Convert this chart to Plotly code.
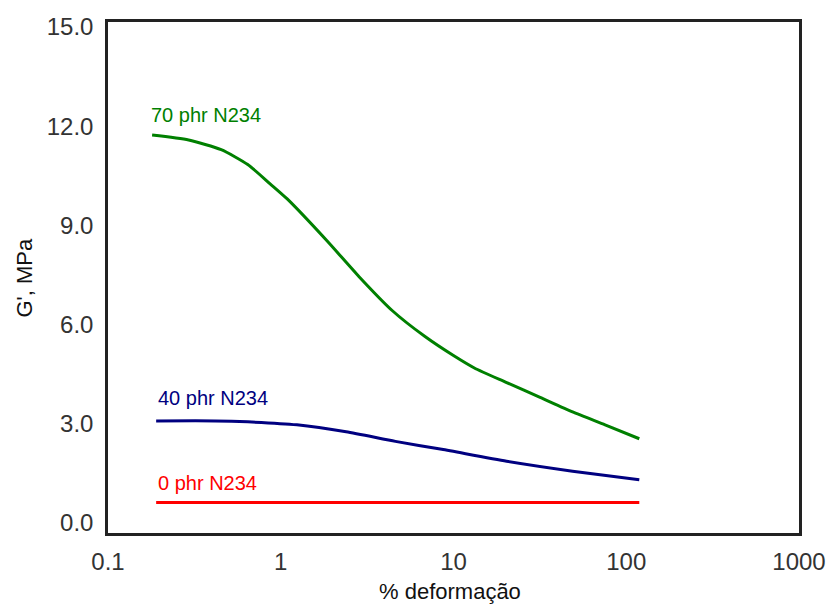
import math
import plotly.graph_objects as go

# Strain (%) and G' (MPa)
strain_70 = [0.180, 0.293, 0.452, 0.644, 0.871, 1.09, 1.84, 2.84, 4.43, 6.84, 10.1, 13.2, 20.3, 31.7, 48.9, 75.4, 119]
g_70 = [11.73, 11.58, 11.29, 10.84, 10.25, 9.80, 8.55, 7.45, 6.42, 5.64, 5.05, 4.69, 4.25, 3.80, 3.36, 2.97, 2.55]

strain_40 = [0.19, 0.418, 0.644, 1.24, 2.39, 4.61, 8.55, 20.3, 48.9, 119]
g_40 = [3.09, 3.09, 3.06, 2.97, 2.76, 2.47, 2.23, 1.87, 1.57, 1.31]

strain_0 = [0.19, 1.0, 10.0, 119]
g_0 = [0.62, 0.62, 0.62, 0.62]

series_names = ["70 phr N234", "40 phr N234", "0 phr N234"]
series_colors = ["#008000", "#000080", "#ff0000"]
label_x = [0.173, 0.19, 0.19]
label_y = [12.33, 3.77, 1.22]

x_tickvals = [0.1, 1, 10, 100, 1000]
x_ticktext = ["0.1", "1", "10", "100", "1000"]
y_tickvals = [0, 3, 6, 9, 12, 15]
y_ticktext = ["0.0", "3.0", "6.0", "9.0", "12.0", "15.0"]

x_title = "% deformação"
y_title = "G', MPa"

fig = go.Figure()
for xs, ys, name, col in zip([strain_70, strain_40, strain_0], [g_70, g_40, g_0], series_names, series_colors):
    fig.add_trace(go.Scatter(x=xs, y=ys, mode="lines", name=name,
                             line=dict(color=col, width=3, shape="spline", smoothing=0.6),
                             showlegend=False))

for name, col, lx, ly in zip(series_names, series_colors, label_x, label_y):
    fig.add_annotation(x=math.log10(lx), y=ly, xref="x", yref="y", text=name, showarrow=False,
                       xanchor="left", yanchor="middle",
                       font=dict(family="Liberation Sans, Arial", size=20, color=col))

# axis titles
fig.add_annotation(x=0.5, y=0, xref="paper", yref="paper", text=x_title, showarrow=False,
                   xanchor="center", yanchor="middle", xshift=-4, yshift=-58,
                   font=dict(family="Liberation Sans, Arial", size=22, color="#111"))
fig.add_annotation(x=0, y=0.5, xref="paper", yref="paper", text=y_title, showarrow=False,
                   textangle=-90, xanchor="center", yanchor="middle", xshift=-84,
                   font=dict(family="Liberation Sans, Arial", size=22, color="#111"))

fig.update_layout(
    width=823, height=597,
    margin=dict(l=100, r=21, t=5, b=72),
    paper_bgcolor="white", plot_bgcolor="white",
    font=dict(family="Liberation Sans, Arial", color="#222"),
    xaxis=dict(type="log", range=[-1, 3], tickvals=x_tickvals, ticktext=x_ticktext,
               showgrid=False, zeroline=False, showline=True, linecolor="#222", linewidth=2.5,
               mirror=True, ticks="", tickfont=dict(size=24, color="#333"),
               ticklabeloverflow="allow", ticklabelstandoff=5),
    yaxis=dict(range=[-0.3, 15.15], tickvals=y_tickvals, ticktext=y_ticktext,
               showgrid=False, zeroline=False, showline=True, linecolor="#222", linewidth=2.5,
               mirror=True, ticks="", tickfont=dict(size=24, color="#333"),
               ticklabeloverflow="allow", ticklabelstandoff=7),
)

fig.write_html("out.html")
